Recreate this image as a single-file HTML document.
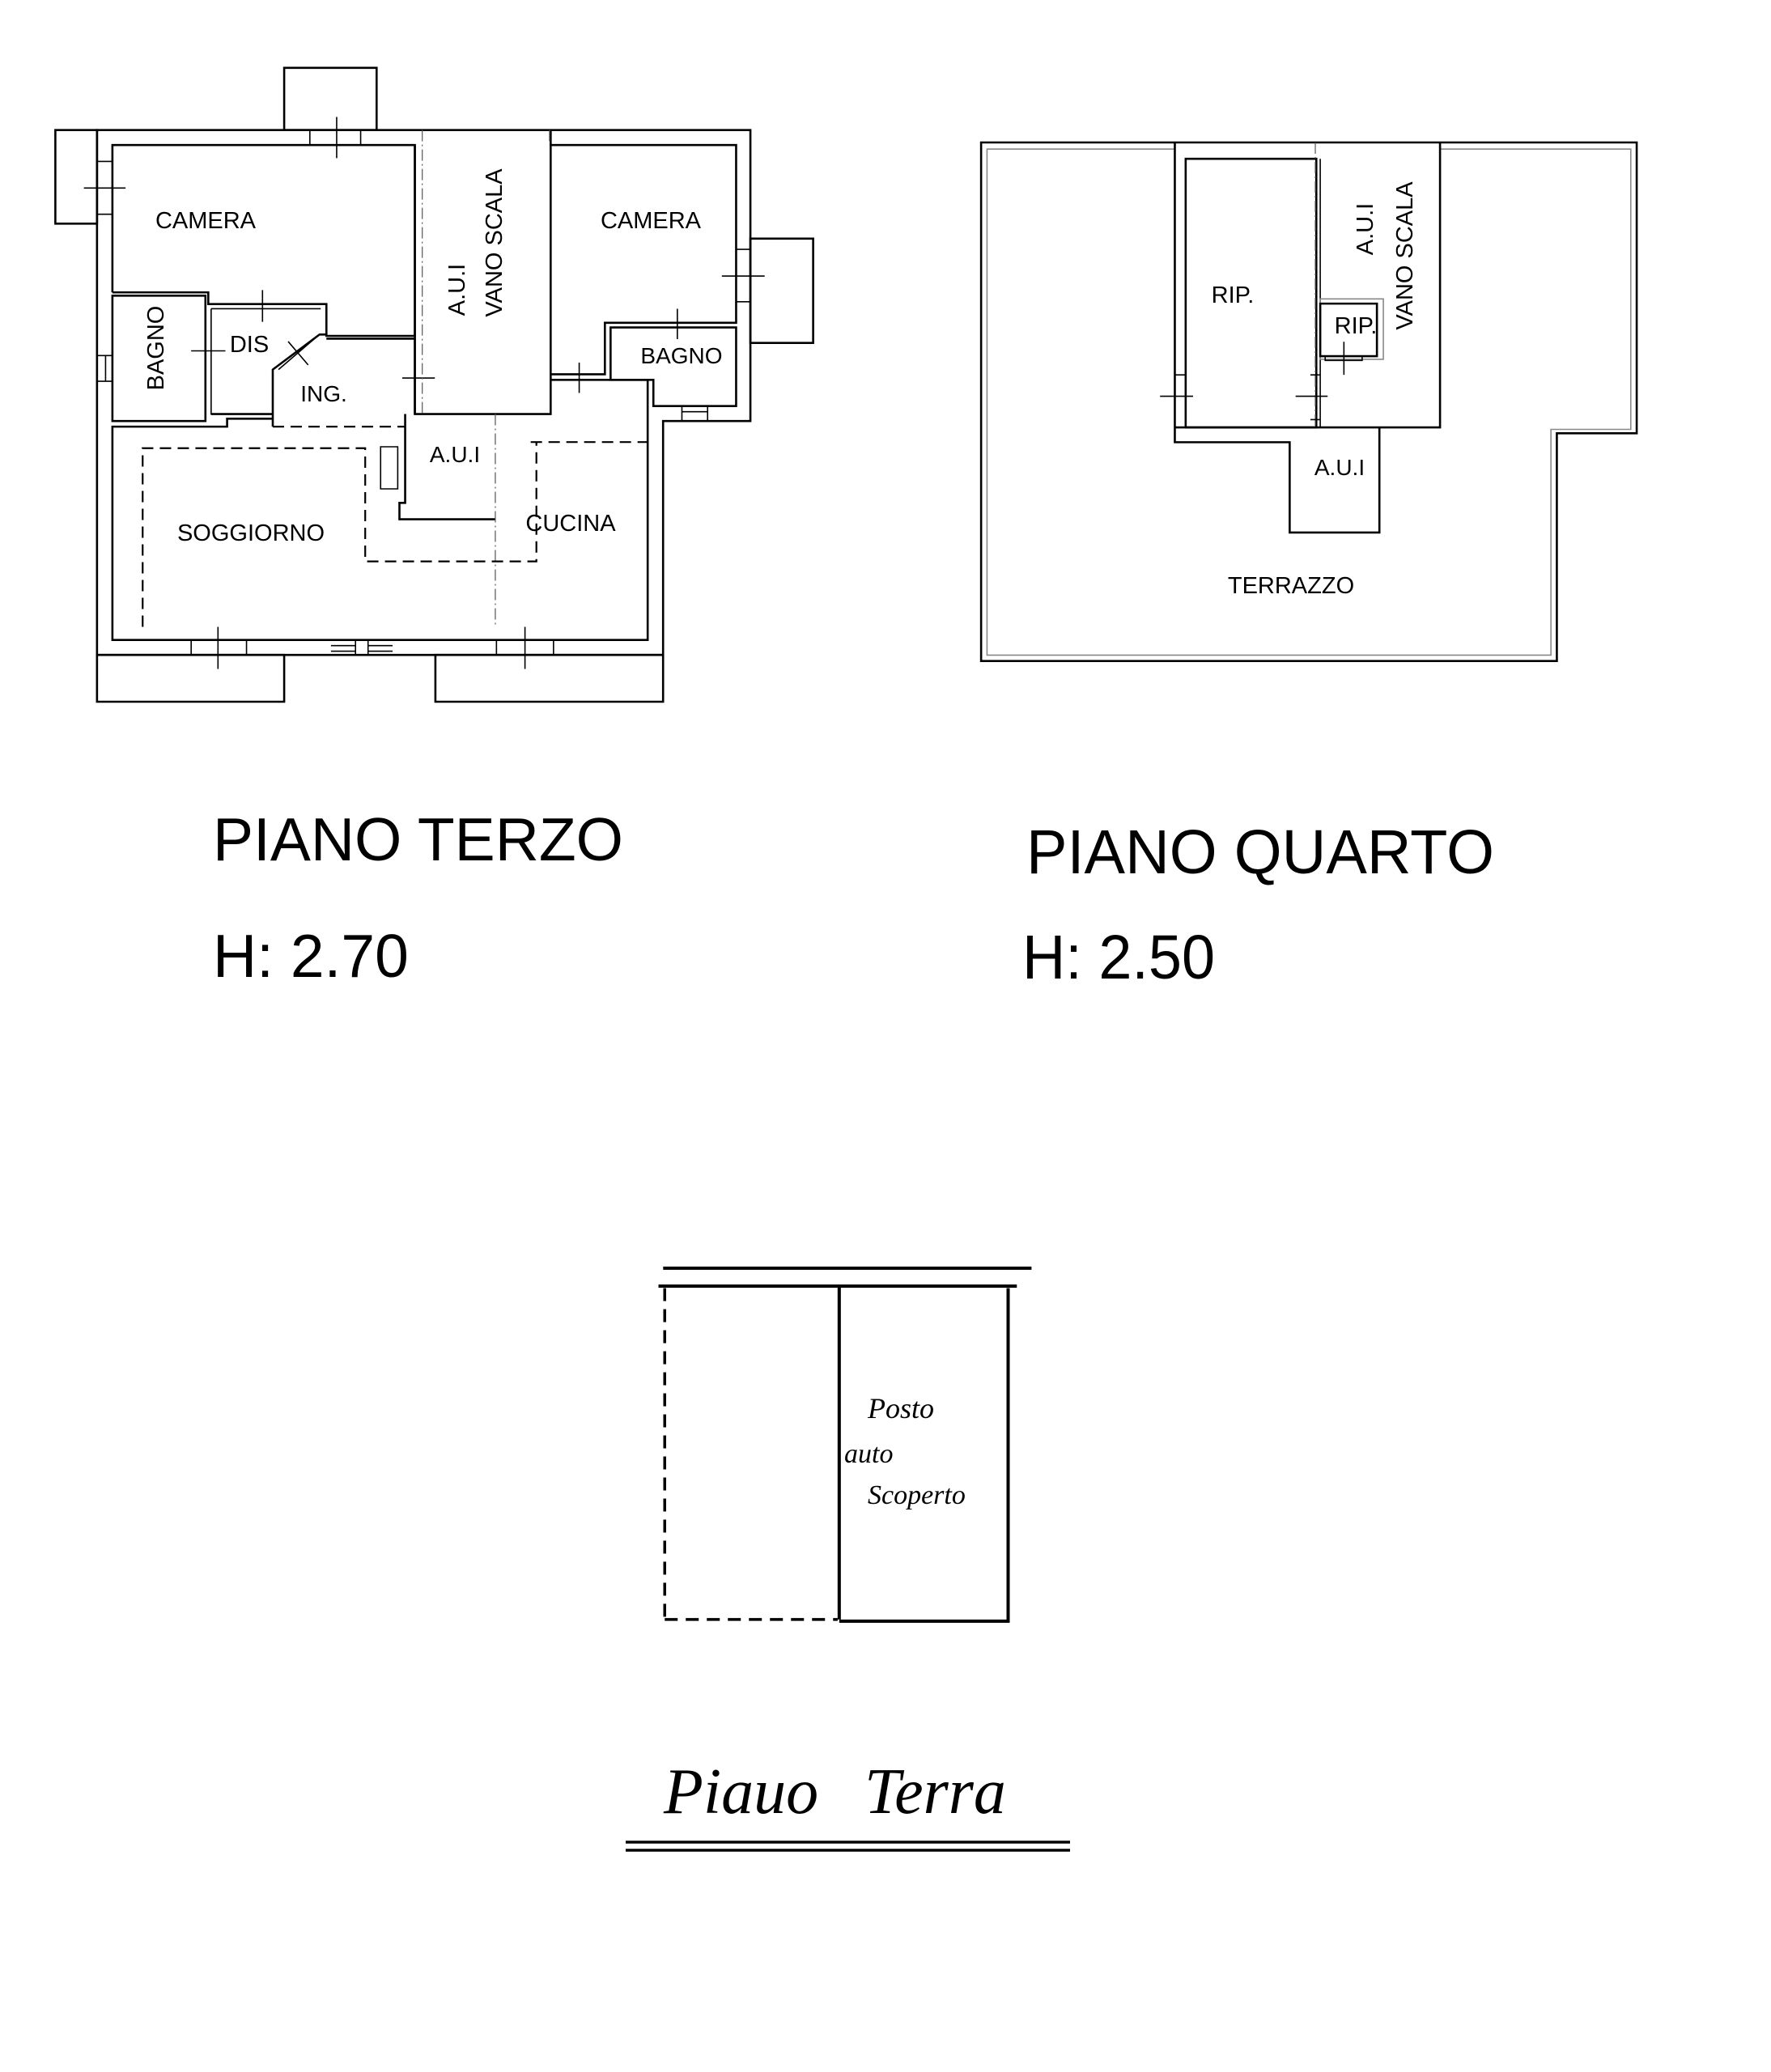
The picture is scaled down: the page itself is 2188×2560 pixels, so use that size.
<!DOCTYPE html>
<html><head><meta charset="utf-8"><style>
html,body{margin:0;padding:0;background:#fff}
svg{display:block}
.l{fill:none;stroke:#000;stroke-width:2.6;vector-effect:non-scaling-stroke}
.b{fill:none;stroke:#000;stroke-width:4;vector-effect:non-scaling-stroke}
.t{fill:none;stroke:#000;stroke-width:1.6;vector-effect:non-scaling-stroke}
.g{fill:none;stroke:#888;stroke-width:1.6;vector-effect:non-scaling-stroke}
.d{fill:none;stroke:#000;stroke-width:2.2;stroke-dasharray:14 8;vector-effect:non-scaling-stroke}
.db{fill:none;stroke:#000;stroke-width:3.5;stroke-dasharray:16 10;vector-effect:non-scaling-stroke}
.dd{fill:none;stroke:#555;stroke-width:1.2;stroke-dasharray:14 4 2 4;vector-effect:non-scaling-stroke}
text{font-family:"Liberation Sans",sans-serif;fill:#000}
.h{font-family:"Liberation Serif",serif;font-style:italic}
</style></head><body>
<svg width="2188" height="2560" viewBox="0 0 2188 2560" xmlns="http://www.w3.org/2000/svg">
<!-- LEFT PLAN -->
<g transform="scale(0.705,0.578)">
<polygon class="l" points="170,278 1315,278 1315,900 1162,900 1162,1400 170,1400"/>
<rect class="l" x="97" y="278" width="73" height="200"/>
<rect class="l" x="498" y="145" width="162" height="133"/>
<rect class="l" x="1315" y="510" width="110" height="223"/>
<rect class="l" x="170" y="1400" width="328" height="100"/>
<rect class="l" x="763" y="1400" width="399" height="100"/>
<path class="t" d="M170,345H197M170,458H197M147,402H220M543,278V310M632,278V310M590,250V338M1290,533H1315M1290,645H1315M1265,590H1340M170,760H197M170,815H197M185,760V815"/>
<path class="l" d="M197,625V310H727V718H572V650H365V625H197"/>
<rect class="l" x="197" y="632" width="163" height="268"/>
<path class="t" d="M370,660H562V660M370,660V885H475M460,620V688M335,750H395"/>
<path class="l" d="M478,912V790L560,715H572M572,724H727V885M370,885H478"/>
<path class="t" d="M488,790L555,720M505,730L540,780"/>
<path class="d" d="M478,912H710"/>
<path class="t" d="M705,808H762"/>
<path class="l" d="M727,310V885H965V278M965,310V800H1060V690H1290V310H965"/>
<path class="dd" d="M740,278V885M963,278V310"/>
<path class="l" d="M1070,700H1290V868H1145V812H1070Z"/>
<path class="t" d="M1187,660V725M1015,775V840M1195,868V900M1240,868V900M1195,880H1240"/>
<path class="l" d="M965,812H1135V1368H197V912H398V895H478M710,885V1075H700V1110H868"/>
<path class="dd" d="M868,885V1335"/>
<path class="d" d="M250,1340V958H640V1200H940V945M930,945H1135"/>
<rect class="t" x="667" y="955" width="30" height="90"/>
<path class="t" d="M335,1368V1400M432,1368V1400M382,1340V1430M580,1380H623M580,1392H623M645,1380H688M645,1392H688M623,1368V1400M645,1368V1400M870,1368V1400M970,1368V1400M920,1340V1430"/>
</g>
<text x="254" y="282" font-size="29" text-anchor="middle">CAMERA</text>
<text x="804" y="282" font-size="29" text-anchor="middle">CAMERA</text>
<text x="308" y="435" font-size="29" text-anchor="middle">DIS</text>
<text x="400" y="496" font-size="28" text-anchor="middle">ING.</text>
<text x="842" y="449" font-size="28" text-anchor="middle">BAGNO</text>
<text x="562" y="571" font-size="28" text-anchor="middle">A.U.I</text>
<text x="310" y="668" font-size="29" text-anchor="middle">SOGGIORNO</text>
<text x="705" y="656" font-size="29" text-anchor="middle">CUCINA</text>
<text transform="translate(202,430) rotate(-90)" font-size="29" text-anchor="middle">BAGNO</text>
<text transform="translate(574,358) rotate(-90)" font-size="29" text-anchor="middle">A.U.I</text>
<text transform="translate(620,300) rotate(-90)" font-size="29" text-anchor="middle">VANO SCALA</text>
<!-- RIGHT PLAN -->
<g transform="translate(1150,100) scale(0.609,0.481)">
<polygon class="l" points="102,158 1432,158 1432,905 1270,905 1270,1490 102,1490"/>
<polyline class="g" points="495,175 114,175 114,1475 1258,1475 1258,895 1420,895 1420,175 1033,175"/>
<path class="l" d="M495,158V928H728V1160H910V890H1033V158M495,890H1033"/>
<rect class="l" x="517" y="200" width="265" height="690"/>
<path class="dd" d="M780,158V890"/>
<path class="t" d="M790,200V890M495,755H517M770,755H790M770,870H790M465,810H532M740,810H805"/>
<rect class="g" x="790" y="560" width="128" height="155"/>
<rect class="l" x="790" y="572" width="115" height="135"/>
<path class="t" d="M800,707V718H875V707M838,670V755"/>
</g>
<text x="1523" y="374" font-size="29" text-anchor="middle">RIP.</text>
<text x="1675" y="412" font-size="29" text-anchor="middle">RIP.</text>
<text x="1655" y="587" font-size="28" text-anchor="middle">A.U.I</text>
<text x="1595" y="733" font-size="29" text-anchor="middle">TERRAZZO</text>
<text transform="translate(1696,283) rotate(-90)" font-size="29" text-anchor="middle">A.U.I</text>
<text transform="translate(1745,316) rotate(-90)" font-size="29" text-anchor="middle">VANO SCALA</text>
<!-- TITLES -->
<text x="263" y="1063" font-size="75">PIANO TERZO</text>
<text x="263" y="1207" font-size="75">H: 2.70</text>
<text x="1268" y="1079" font-size="77" textLength="578" lengthAdjust="spacingAndGlyphs">PIANO QUARTO</text>
<text x="1263" y="1209" font-size="77" textLength="238" lengthAdjust="spacingAndGlyphs">H: 2.50</text>
<!-- BOTTOM -->
<g transform="translate(750,1530) scale(0.385,0.513)">
<path class="b" d="M180,72H1362M165,115H1315M745,118V918M1287,120V922H745"/>
<path class="db" d="M185,120V915M185,918H740"/>
</g>
<line x1="773" y1="2276" x2="1322" y2="2276" stroke="#000" stroke-width="3.5"/>
<line x1="773" y1="2286" x2="1322" y2="2286" stroke="#000" stroke-width="3.5"/>
<text class="h" x="1072" y="1752" font-size="36">Posto</text>
<text class="h" x="1043" y="1807" font-size="34">auto</text>
<text class="h" x="1072" y="1858" font-size="34">Scoperto</text>
<text class="h" x="820" y="2240" font-size="80">Piauo</text>
<text class="h" x="1068" y="2240" font-size="80">Terra</text>
</svg>
</body></html>
